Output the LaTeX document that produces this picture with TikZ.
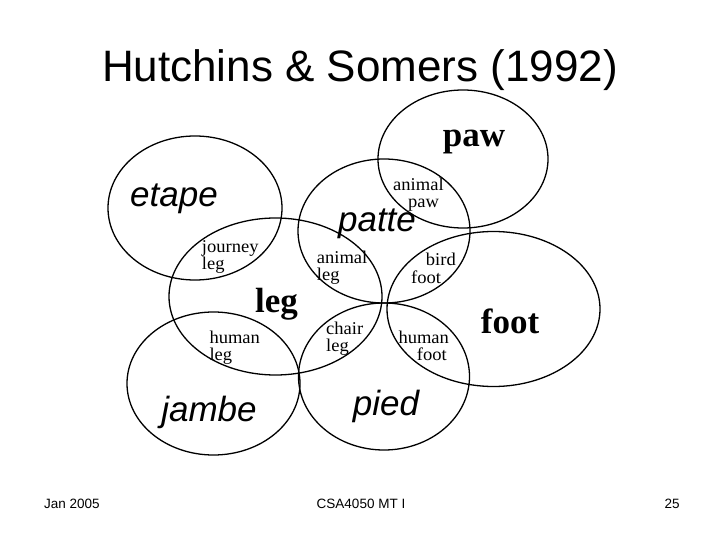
\documentclass[tikz,border=0pt]{standalone}
\usepackage{fontspec}
\setmainfont{Liberation Sans}
\newfontfamily\serifw[FakeStretch=1.03]{Liberation Serif}
\newfontfamily\serifb{Liberation Serif}
\begin{document}
\begin{tikzpicture}[x=1pt,y=-1pt,
  ring/.style={draw, line width=1.3pt},
  bigit/.style={font=\fontsize{35}{40}\selectfont\itshape, inner sep=0, anchor=base},
  bigbf/.style={font=\serifb\bfseries\fontsize{35}{40}\selectfont, inner sep=0, anchor=base},
  small/.style={font=\serifw\fontsize{18}{17.3}\selectfont, align=left, inner sep=0, anchor=base west},
  foot/.style={font=\fontsize{13.5}{16}\selectfont, inner sep=0, anchor=base}]
\useasboundingbox[fill=white] (0,0) rectangle (720,540);
% title
\node[font=\fontsize{44}{50}\selectfont, inner sep=0, anchor=base] (title) at (360,82) {Hutchins \& Somers (1992)};
% ellipses
\draw[ring] (195,208) ellipse [x radius=87, y radius=72];
\draw[ring] (463,159) ellipse [x radius=85, y radius=69];
\draw[ring] (384,231) ellipse [x radius=86, y radius=72];
\draw[ring] (275.5,296.5) ellipse [x radius=106.5, y radius=78.5];
\draw[ring] (493.5,309) ellipse [x radius=106.5, y radius=77.5];
\draw[ring] (213.5,383.5) ellipse [x radius=86.5, y radius=71.5];
\draw[ring] (384,376.5) ellipse [x radius=85.5, y radius=73.5];
% main words
\node[bigit] (etape) at (174,207) {etape};
\node[bigit] (patte) at (377,231) {patte};
\node[bigit] (jambe) at (209,421) {jambe};
\node[bigit] (pied) at (386,415) {pied};
\node[bigbf] (paw) at (474,146.5) {paw};
\node[bigbf] (leg) at (276.5,312.5) {leg};
\node[bigbf] (foot) at (510,333) {foot};
% overlap labels (anchor = baseline of the second line)
\node[small] (animalpaw) at (393,207.5) {animal\\\hspace*{15pt}paw};
\node[small] (journeyleg) at (201.7,269.5) {journey\\leg};
\node[small] (animalleg) at (316.7,280.6) {animal\\leg};
\node[small] (birdfoot) at (411,283) {\hspace*{14.7pt}bird\\foot};
\node[small] (humanleg) at (209.3,360.6) {human\\leg};
\node[small] (chairleg) at (326,351.6) {chair\\leg};
\node[small] (humanfoot) at (398.3,360.6) {human\\\hspace*{18.4pt}foot};
% footer
\node[foot] (date) at (72,508) {Jan 2005};
\node[foot] (course) at (361,508) {CSA4050 MT I};
\node[foot] (page) at (672,508) {25};
\end{tikzpicture}
\end{document}
